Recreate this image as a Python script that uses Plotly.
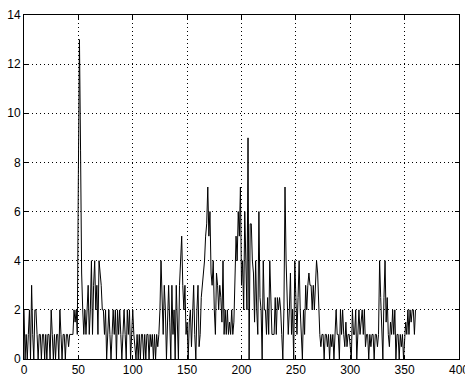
import plotly.graph_objects as go

values = [
    2, 0, 1, 0, 1, 2, 0, 3, 1, 0,
    2, 2, 1, 0, 1, 1, 0, 1, 1, 0,
    1, 0, 1, 1, 0, 2, 1, 0, 1, 0,
    1, 1, 0, 2, 1, 0, 1, 1, 0, 1,
    1, 0.5, 1, 1, 1, 1, 2, 1.5, 2, 1,
    7.5, 13, 8.5, 3.5, 2, 1, 2, 1, 2, 3,
    1, 2, 4, 1, 3, 4, 2, 3, 1, 4,
    3.5, 3, 2, 2, 1, 2, 0, 1, 2, 1,
    0, 1, 2, 1, 2, 0, 2, 1, 2, 1,
    0, 1, 2, 1, 0, 2, 1, 2, 0, 1,
    2, 1, 0.5, 0, 1, 0, 1, 0, 1, 1,
    0, 1, 0, 1, 1, 0, 1, 0.5, 1, 0,
    1, 0, 1, 0.5, 1, 2, 4, 2, 1, 3,
    2, 0, 2, 3, 1.5, 0, 3, 1, 2, 0,
    3, 1, 0, 3, 4, 5, 3, 2, 3, 1,
    1.5, 0, 1.5, 2, 0.5, 2, 3, 1, 0, 2,
    3, 0.5, 1, 2.5, 3, 3.5, 4, 5, 5.5, 7,
    5, 6, 3.5, 3, 4, 2, 1, 3.5, 3, 2,
    3, 2.5, 1.5, 4, 1, 2, 1, 2, 1, 1.5,
    1, 2, 1, 1.5, 3, 5, 4, 6, 5, 7,
    3, 4, 2, 6, 4, 2, 9, 0, 5.5, 5.5,
    4, 3.5, 1.5, 4, 2, 1, 6, 2.5, 2, 0,
    4, 2, 2, 1, 2.5, 1, 4, 2, 1, 1,
    1, 2.5, 1, 2.5, 2, 2.5, 2, 1, 0, 2,
    7, 4, 2, 1, 2, 3.5, 1, 2, 0, 4,
    2.5, 1, 2.5, 4, 2, 1, 0, 2, 1, 3,
    2, 3, 3.5, 3, 3, 2, 3, 2, 3.5, 4,
    3.5, 2, 1, 0.5, 1, 1, 0, 1, 1, 0.5,
    1, 0, 1, 0.5, 1, 0, 1, 2, 1, 1,
    0, 2, 1, 2, 1, 0.5, 1.5, 0.5, 1, 1,
    0.5, 0, 2, 1, 1, 2, 0, 1, 2, 1,
    1.5, 2, 1, 2, 0.5, 1, 1, 0, 1, 0.5,
    1, 1, 0, 1, 1, 0.5, 1, 4, 2.5, 1,
    0, 2.5, 4, 1.5, 2.5, 1, 0.5, 1.5, 1, 2,
    1, 2, 0, 1, 1, 0, 1, 0.5, 1, 0,
    1, 1.5, 1, 2, 1, 2, 1.5, 2, 2, 1,
    2,
]
x_index = list(range(len(values)))

x_ticks = [0, 50, 100, 150, 200, 250, 300, 350, 400]
y_ticks = [0, 2, 4, 6, 8, 10, 12, 14]

fig = go.Figure()
fig.add_trace(go.Scatter(x=x_index, y=values, mode="lines",
                         line=dict(color="black", width=1), showlegend=False))

axis_common = dict(
    showline=True, linecolor="black", linewidth=1, mirror="ticks",
    ticks="inside", ticklen=4, tickcolor="black",
    showgrid=True, gridcolor="black", gridwidth=1, griddash="1px,3px",
    zeroline=False, automargin=False, ticklabeloverflow="allow",
    tickfont=dict(family="Liberation Sans, Arial, sans-serif", size=12, color="black"),
)

fig.update_layout(
    width=465, height=377,
    margin=dict(l=24, r=6, t=15, b=18),
    paper_bgcolor="white", plot_bgcolor="white",
    xaxis=dict(range=[0, 400], tickvals=x_ticks, **axis_common),
    yaxis=dict(range=[0, 14], tickvals=y_ticks, **axis_common),
)

fig.write_html("out.html", config={"displayModeBar": False, "staticPlot": True},
               post_script="document.body.style.margin='0';document.body.style.overflow='hidden';")
